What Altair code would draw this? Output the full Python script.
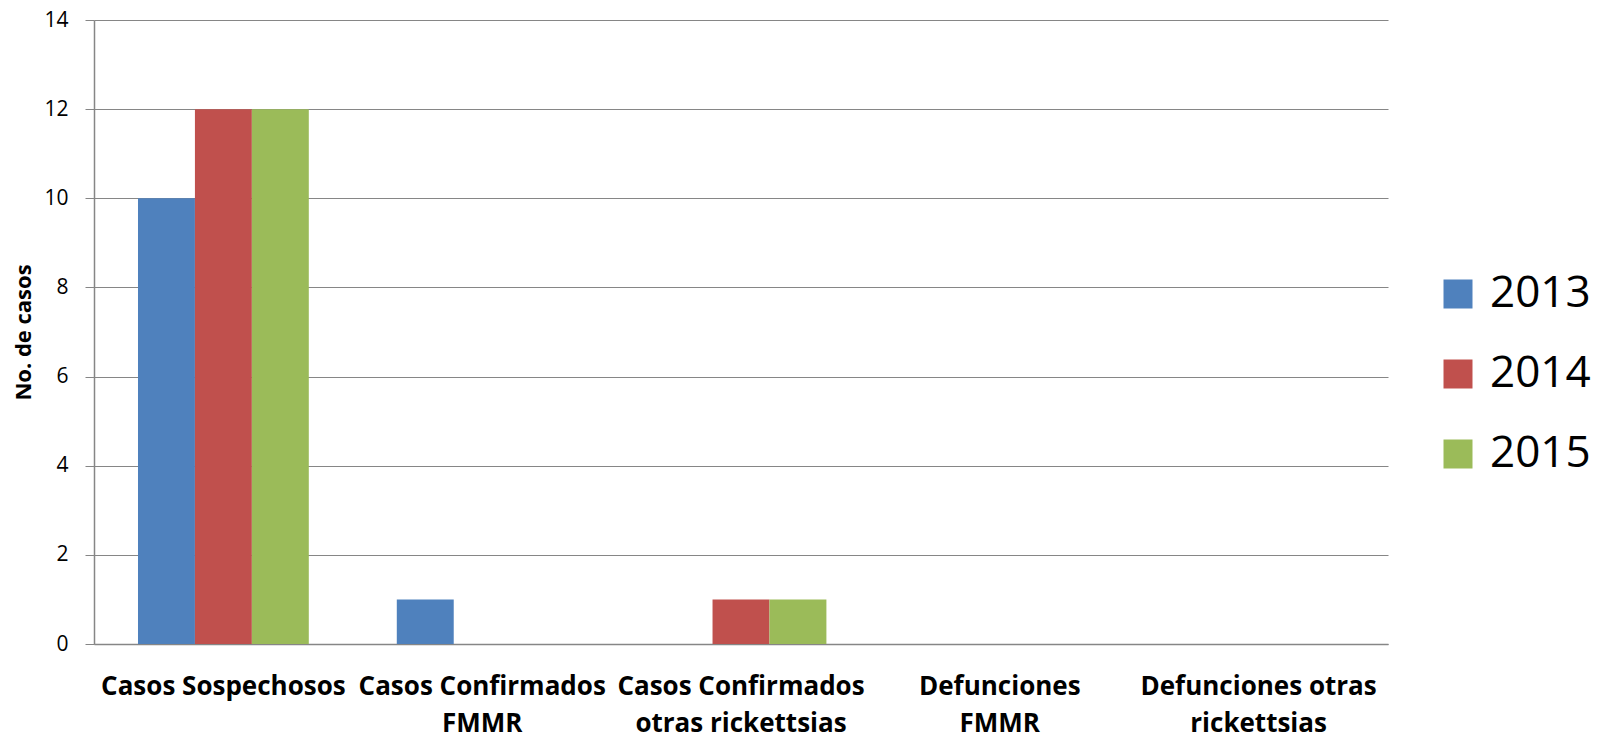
import altair as alt
import pandas as pd

categories = ["Casos Sospechosos", "Casos Confirmados FMMR", "Casos Confirmados otras rickettsias",
              "Defunciones FMMR", "Defunciones otras rickettsias"]
label_line1 = ["Casos Sospechosos", "Casos Confirmados", "Casos Confirmados", "Defunciones", "Defunciones otras"]
label_line2 = ["", "FMMR", "otras rickettsias", "FMMR", "rickettsias"]
years = ["2013", "2014", "2015"]
values_2013 = [10, 1, 0, 0, 0]
values_2014 = [12, 0, 1, 0, 0]
values_2015 = [12, 0, 1, 0, 0]
colors = ["#4F81BD", "#C0504D", "#9BBB59"]
y_ticks = [0, 2, 4, 6, 8, 10, 12, 14]

series = {"2013": values_2013, "2014": values_2014, "2015": values_2015}
order = [label_line1[i] + ("|" + label_line2[i] if label_line2[i] else "") for i in range(len(categories))]
rows = []
for i, c in enumerate(categories):
    for y in years:
        rows.append({"cat": order[i], "year": y, "value": series[y][i]})
df = pd.DataFrame(rows)

chart = alt.Chart(df).mark_bar().encode(
    x=alt.X("cat:N", sort=order, title=None,
            scale=alt.Scale(paddingInner=0.34, paddingOuter=0.17),
            axis=alt.Axis(labelExpr="split(datum.label, '|')", labelAngle=0,
                          labelFont="Open Sans", labelFontWeight="bold", labelFontSize=26,
                          labelColor="#000000", labelLineHeight=37, labelPadding=29,
                          ticks=False, domainColor="#868686", domainWidth=1.5, labelLimit=400)),
    xOffset=alt.XOffset("year:N", sort=years, scale=alt.Scale(paddingInner=0, paddingOuter=0)),
    y=alt.Y("value:Q", title="No. de casos",
            scale=alt.Scale(domain=[0, 14]),
            axis=alt.Axis(values=y_ticks, labelFont="Open Sans", labelFontSize=21,
                          labelColor="#000000", labelPadding=17, tickSize=9,
                          tickColor="#868686", gridColor="#868686", gridWidth=1.2,
                          domainColor="#868686", domainWidth=1.5,
                          titleFont="Open Sans", titleFontWeight="bold", titleFontSize=22,
                          titleColor="#000000", titleAngle=270, titleX=-71, titleY=312,
                          titleAlign="center", titleBaseline="middle")),
    color=alt.Color("year:N", sort=years,
                    scale=alt.Scale(domain=years, range=colors),
                    legend=alt.Legend(title=None, orient="none", legendX=1342, legendY=252,
                                      padding=0,
                                      symbolType="square", symbolSize=841, symbolStrokeWidth=0,
                                      labelFont="Open Sans", labelFontSize=44,
                                      labelColor="#000000", rowPadding=36, labelOffset=10)),
).properties(
    width=1294, height=624,
    autosize=alt.AutoSizeParams(type="none"),
    padding={"left": 86, "top": 12, "right": 204, "bottom": 96},
    background="white",
).configure_view(stroke=None)

chart.save("out.html", embed_options={"renderer": "svg", "actions": False})
